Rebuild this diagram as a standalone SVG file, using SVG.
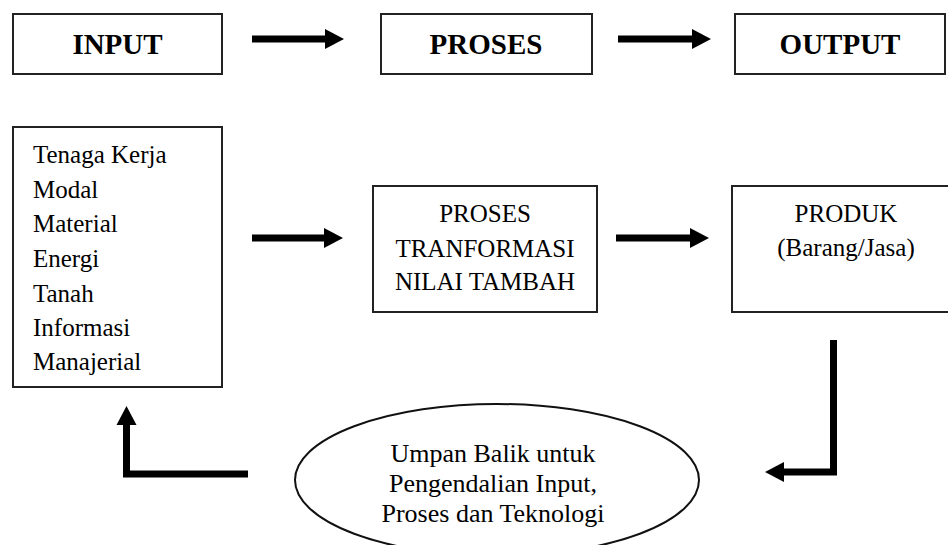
<svg xmlns="http://www.w3.org/2000/svg" width="948" height="545" viewBox="0 0 948 545">
<style>
.box{fill:#fff;stroke:#222;stroke-width:2}
.t{font-family:"Times New Roman","Liberation Serif","DejaVu Serif",serif;fill:#000}
.h{font-size:29px;font-weight:bold;text-anchor:middle}
.b{font-size:25px}
.c{text-anchor:middle}
.e{font-size:26px;text-anchor:middle}
.con{fill:none;stroke:#000;stroke-width:7;stroke-linejoin:miter;marker-end:url(#ah)}
</style>
<defs>
<marker id="ah" markerUnits="userSpaceOnUse" markerWidth="19" markerHeight="20" refX="0" refY="10" orient="auto" overflow="visible">
<path d="M0,0 L19,10 L0,20 Z" fill="#000"/>
</marker>
</defs>
<rect width="948" height="545" fill="#fff"/>
<g id="input-head"><rect class="box" x="13" y="14" width="209" height="60"/><text class="t h" x="117.5" y="54" font-family="Liberation Serif, serif">INPUT</text></g>
<g id="proses-head"><rect class="box" x="381" y="14" width="211" height="60"/><text class="t h" x="486" y="54">PROSES</text></g>
<g id="output-head"><rect class="box" x="735" y="14" width="210" height="60"/><text class="t h" x="840" y="54">OUTPUT</text></g>
<g id="input-list"><rect class="box" x="13" y="127" width="209" height="260"/>
<text class="t b" x="33" y="163">Tenaga Kerja</text>
<text class="t b" x="33" y="198">Modal</text>
<text class="t b" x="33" y="232">Material</text>
<text class="t b" x="33" y="267">Energi</text>
<text class="t b" x="33" y="302">Tanah</text>
<text class="t b" x="33" y="336">Informasi</text>
<text class="t b" x="33" y="370">Manajerial</text>
</g>
<g id="proses-box"><rect class="box" x="373" y="186" width="224" height="126"/>
<text class="t b c" x="485" y="222">PROSES</text>
<text class="t b c" x="485" y="257">TRANFORMASI</text>
<text class="t b c" x="485" y="290">NILAI TAMBAH</text>
</g>
<g id="produk-box"><rect class="box" x="732" y="186" width="228" height="126"/>
<text class="t b c" x="846" y="222">PRODUK</text>
<text class="t b c" x="846" y="256">(Barang/Jasa)</text>
</g>
<g id="umpan-balik"><ellipse cx="497" cy="480" rx="202" ry="76" fill="#fff" stroke="#111" stroke-width="2"/>
<text class="t e" x="493" y="462">Umpan Balik untuk</text>
<text class="t e" x="493" y="492">Pengendalian Input,</text>
<text class="t e" x="493" y="522">Proses dan Teknologi</text>
</g>
<g id="connectors">
<path class="con" d="M252,39 H325"/>
<path class="con" d="M618,39 H692"/>
<path class="con" d="M252,238 H324"/>
<path class="con" d="M616,238 H690"/>
<path class="con" d="M833.5,340 V472 H784"/>
<path class="con" d="M248,474 H126.5 V425"/>
</g>
</svg>
